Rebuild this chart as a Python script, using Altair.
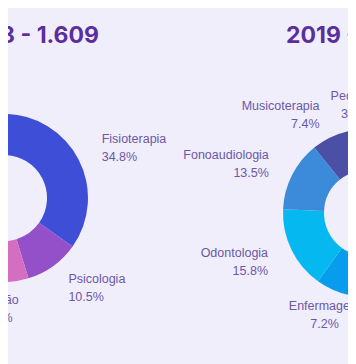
import altair as alt
import pandas as pd

# Left donut (2018), slices clockwise from 12 o'clock
cats_2018 = ["Fisioterapia", "Psicologia", "Nutrição", "Demais áreas", "Outros"]
vals_2018 = [34.8, 10.5, 11.9, 36.8, 6.0]

# Right donut (2019), slices clockwise from 12 o'clock
cats_2019 = ["Demais áreas", "Enfermagem", "Odontologia", "Fonoaudiologia", "Musicoterapia", "Pediatria"]
vals_2019 = [52.7, 7.2, 15.8, 13.5, 7.4, 3.4]

titles = ["2018 - 1.609", "2019 -"]

colors_2018 = ["#3F4ED6", "#9350C9", "#D46EC0", "#7E63C8", "#C48FAE"]
colors_2019 = ["#2F6FD0", "#079CEC", "#05B9F0", "#3B8BDA", "#4B50A6", "#4B2B7D"]

BG = "#F0EEFB"
LABEL_COLOR = "#6C58A8"
TITLE_COLOR = "#5B2E9E"


def donut(cats, vals, colors, cx, cy):
    df = pd.DataFrame({"cat": cats, "v": vals, "i": list(range(len(cats)))})
    base = alt.Chart(df)
    arcs = base.mark_arc(innerRadius=43, outerRadius=84, x=cx, y=cy).encode(
        theta=alt.Theta("v:Q", stack=True),
        order=alt.Order("i:Q"),
        color=alt.Color("cat:N", scale=alt.Scale(domain=cats, range=colors), legend=None),
    )
    labels = (
        base.transform_window(cum="sum(v)", sort=[alt.SortField("i")], frame=[None, 0])
        .transform_calculate(
            s="sin(2*PI*(datum.cum - datum.v/2)/100)",
            label="[datum.cat, format(datum.v, '.1f') + '%']",
        )
        .mark_text(
            radius=110,
            x=cx,
            y=cy,
            dy=-8,
            font="Liberation Sans",
            fontSize=12.5,
            lineHeight=18,
            color=LABEL_COLOR,
            baseline="middle",
            align=alt.ExprRef(expr="abs(datum.s) < 0.41 ? 'center' : (datum.s > 0 ? 'left' : 'right')"),
        )
        .encode(
            theta=alt.Theta("v:Q", stack=True),
            order=alt.Order("i:Q"),
            text=alt.Text("label:N"),
        )
    )
    return arcs, labels


a1, l1 = donut(cats_2018, vals_2018, colors_2018, -4, 190)
a2, l2 = donut(cats_2019, vals_2019, colors_2019, 359, 205)

t1 = alt.Chart(pd.DataFrame({"t": [titles[0]]})).mark_text(
    x=91, y=35, align="right", baseline="alphabetic",
    font="Inter", fontWeight="bold", fontSize=23, color=TITLE_COLOR,
).encode(text="t:N")
t2 = alt.Chart(pd.DataFrame({"t": [titles[1]]})).mark_text(
    x=278, y=35, align="left", baseline="alphabetic",
    font="Inter", fontWeight="bold", fontSize=23, color=TITLE_COLOR,
).encode(text="t:N")

chart = (
    alt.layer(a1, l1, a2, l2, t1, t2)
    .resolve_scale(color="independent")
    .properties(width=340, height=356, padding=0, autosize="none", background=BG)
    .configure_view(stroke=None)
)

chart.save("out.html", embed_options={"renderer": "svg", "actions": False})
